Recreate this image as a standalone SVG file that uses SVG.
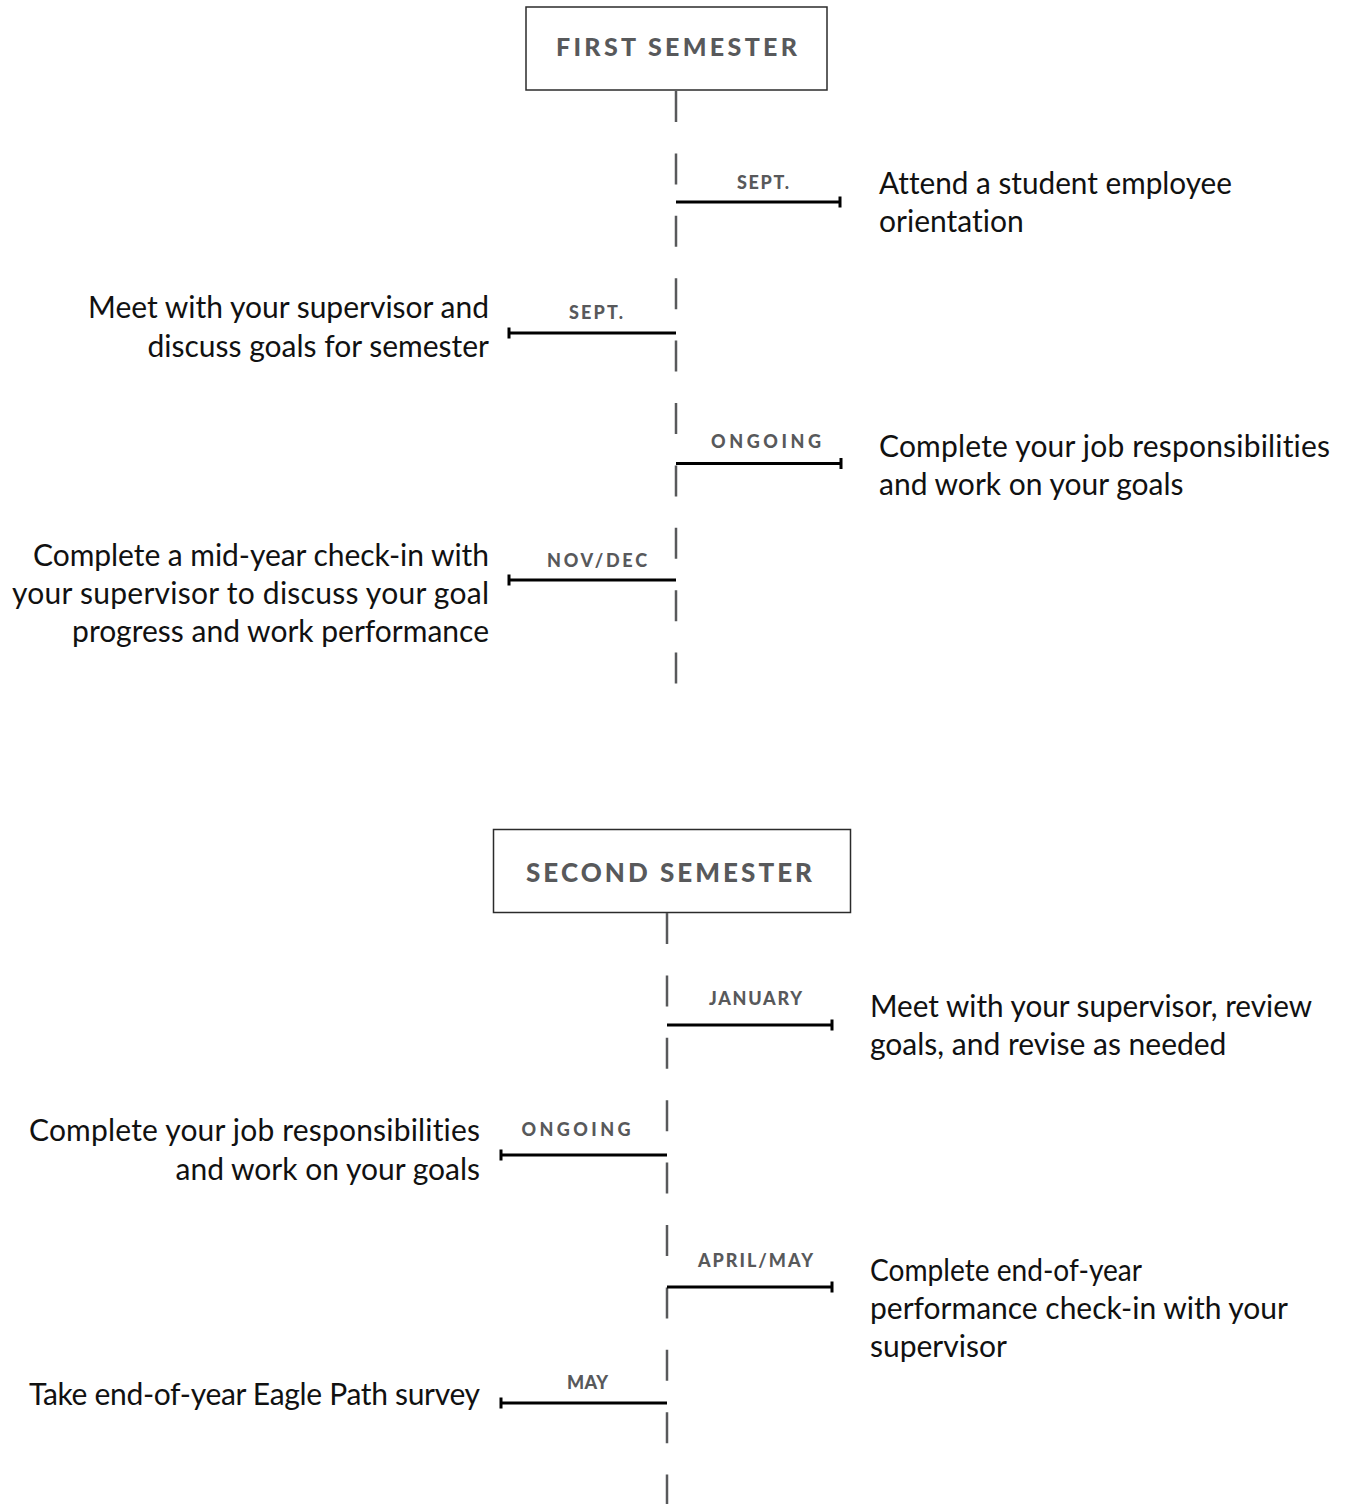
<svg xmlns="http://www.w3.org/2000/svg" width="1345" height="1504" viewBox="0 0 1345 1504">
<style>
.bg{fill:#ffffff}
.box{fill:#ffffff;stroke:#2b2b2b;stroke-width:1.5}
.title{font-family:Lato,"Open Sans",sans-serif;font-weight:900;fill:#58595b;text-anchor:middle}
.spine{stroke:#58595b;stroke-width:2.5;fill:none;stroke-dasharray:31 31.4}
.conn{stroke:#000000;stroke-width:3;fill:none}
.lbl{font-family:Lato,"Open Sans",sans-serif;font-weight:900;font-size:18px;fill:#58595b;text-anchor:middle}
.txt{font-family:Lato,"Open Sans",sans-serif;font-size:30px;fill:#111111;font-variant-ligatures:none}
.end{text-anchor:end}
</style>
<rect class="bg" x="0" y="0" width="1345" height="1504"/>

<g id="first-semester">
<rect class="box" x="526" y="7" width="301" height="83"/>
<text class="title" x="676.5" y="56" font-size="25" textLength="241" lengthAdjust="spacing">FIRST SEMESTER</text>
</g>

<g id="second-semester">
<rect class="box" x="493.5" y="829.5" width="357" height="83"/>
<text class="title" x="669" y="882" font-size="26" textLength="286" lengthAdjust="spacing">SECOND SEMESTER</text>
</g>

<g id="connectors">
<line class="spine" x1="676" y1="91" x2="676" y2="686"/>
<line class="spine" x1="667" y1="913" x2="667" y2="1504"/>
<path class="conn" d="M676 202 H840 M840 196.5 V207.5"/>
<path class="conn" d="M676 333 H509 M509 327.5 V338.5"/>
<path class="conn" d="M676 463.5 H841 M841 458 V469"/>
<path class="conn" d="M676 580 H509 M509 574.5 V585.5"/>
<path class="conn" d="M667 1025 H832 M832 1019.5 V1030.5"/>
<path class="conn" d="M667 1155 H501 M501 1149.5 V1160.5"/>
<path class="conn" d="M667 1287 H832 M832 1281.5 V1292.5"/>
<path class="conn" d="M667 1403 H501 M501 1397.5 V1408.5"/>
</g>

<g id="e1">
<text class="lbl" x="763" y="189" textLength="52" lengthAdjust="spacing">SEPT.</text>
<text class="txt" x="879" y="194" textLength="353" lengthAdjust="spacingAndGlyphs">Attend a student employee</text>
<text class="txt" x="879" y="232">orientation</text>
</g>

<g id="e2">
<text class="lbl" x="596" y="319" textLength="54" lengthAdjust="spacing">SEPT.</text>
<text class="txt end" x="489" y="318" textLength="401" lengthAdjust="spacing">Meet with your supervisor and</text>
<text class="txt end" x="489" y="357">discuss goals for semester</text>
</g>

<g id="e3">
<text class="lbl" x="766" y="448" textLength="110" lengthAdjust="spacing">ONGOING</text>
<text class="txt" x="879" y="457" textLength="451" lengthAdjust="spacing">Complete your job responsibilities</text>
<text class="txt" x="879" y="495">and work on your goals</text>
</g>

<g id="e4">
<text class="lbl" x="597" y="567" textLength="100" lengthAdjust="spacing">NOV/DEC</text>
<text class="txt end" x="489" y="566" textLength="456" lengthAdjust="spacing">Complete a mid-year check-in with</text>
<text class="txt end" x="489" y="604" textLength="477" lengthAdjust="spacing">your supervisor to discuss your goal</text>
<text class="txt end" x="489" y="642">progress and work performance</text>
</g>

<g id="e5">
<text class="lbl" x="755.5" y="1005" textLength="93" lengthAdjust="spacing">JANUARY</text>
<text class="txt" x="870" y="1017" textLength="442" lengthAdjust="spacingAndGlyphs">Meet with your supervisor, review</text>
<text class="txt" x="870" y="1055">goals, and revise as needed</text>
</g>

<g id="e6">
<text class="lbl" x="576" y="1136" textLength="109" lengthAdjust="spacing">ONGOING</text>
<text class="txt end" x="480" y="1141" textLength="451" lengthAdjust="spacing">Complete your job responsibilities</text>
<text class="txt end" x="480" y="1180">and work on your goals</text>
</g>

<g id="e7">
<text class="lbl" x="755.5" y="1267" textLength="115" lengthAdjust="spacing">APRIL/MAY</text>
<text class="txt" x="870" y="1281" textLength="272" lengthAdjust="spacingAndGlyphs">Complete end-of-year</text>
<text class="txt" x="870" y="1319" textLength="418" lengthAdjust="spacing">performance check-in with your</text>
<text class="txt" x="870" y="1357">supervisor</text>
</g>

<g id="e8">
<text class="lbl" x="587.5" y="1389" textLength="41" lengthAdjust="spacing">MAY</text>
<text class="txt end" x="480" y="1405" textLength="451" lengthAdjust="spacing">Take end-of-year Eagle Path survey</text>
</g>
</svg>
